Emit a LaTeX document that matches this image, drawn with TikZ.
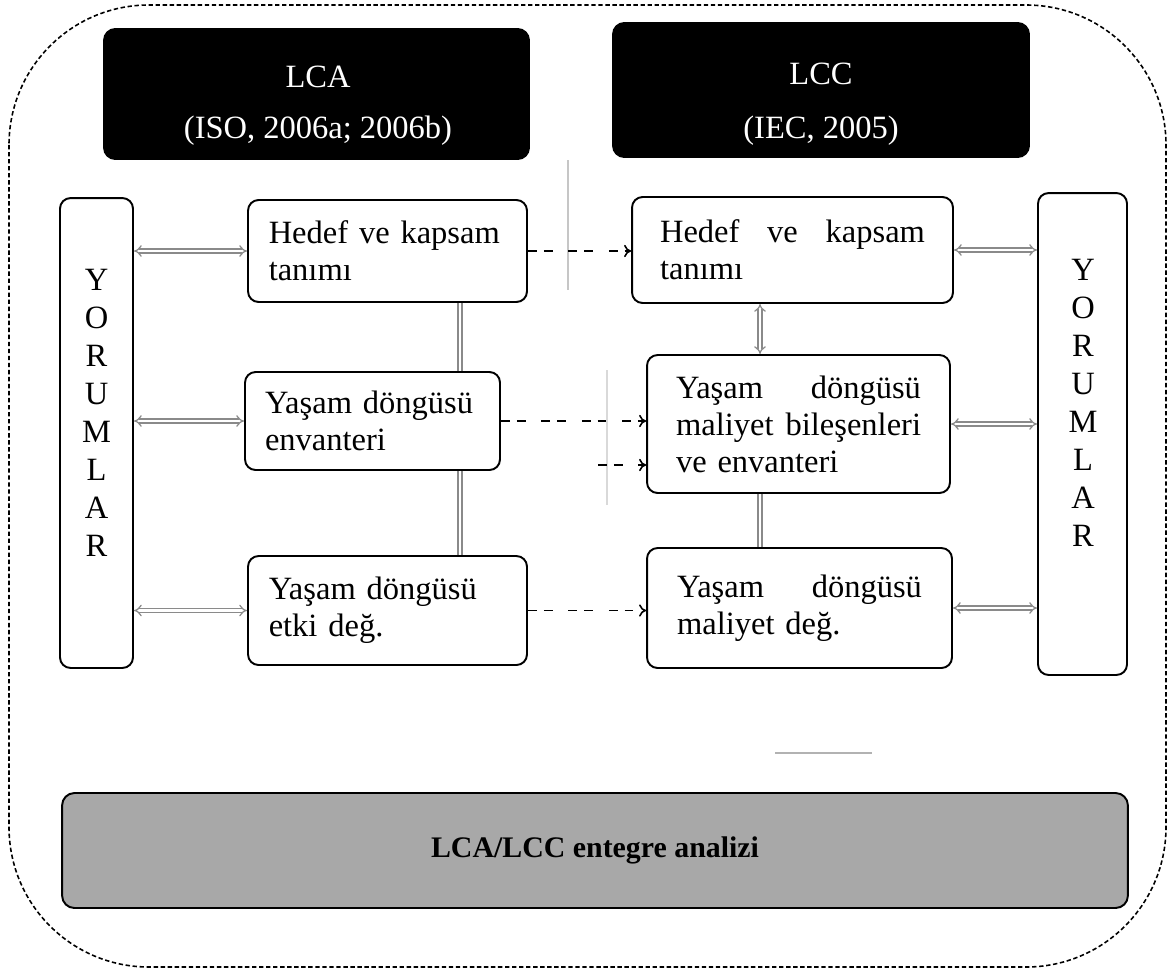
\documentclass[tikz,border=0pt]{standalone}
\usepackage{fontspec}
\setmainfont{Liberation Serif}
\usepackage{tikz}
\usetikzlibrary{arrows.meta,positioning,calc}
\definecolor{boxGray}{HTML}{A8A8A8}
\definecolor{linkGray}{HTML}{8A8A8A}
\newcommand{\jline}[1]{\makebox[\hsize][s]{#1}}

\begin{document}
\begin{tikzpicture}[x=0.02cm, y=-0.02cm,
  font=\fontsize{18.5}{21}\selectfont,
  head/.style={rounded corners=7pt,fill=black,minimum width=#1,inner sep=0pt},
  stage/.style={draw,line width=1.1pt,rounded corners=6pt,fill=white,align=left,inner ysep=0pt},
  yor/.style={draw,line width=1.1pt,rounded corners=6pt,fill=white,inner sep=0pt},
  dlink/.style={draw=linkGray,double=white,double distance=1.5pt,line width=0.7pt},
  flow/.style={black,line width=0.9pt,dash pattern=on 5pt off 4pt on 5pt off 9pt,-{To[length=4pt,width=7pt]}}]
\useasboundingbox (0,0) rectangle (1168,974);
% outer frame
\draw[line width=0.9pt,dash pattern=on 2.5pt off 1.5pt,rounded corners=2.8cm] (9,5) rectangle (1166,967);
% scan traces
\draw[gray!45,line width=0.8pt] (568,160) -- (568,290);
\draw[gray!30,line width=0.8pt] (607,370) -- (607,505);
\draw[gray!60,line width=0.8pt] (775,753) -- (872,753);
% headers
\node[head=8.54cm,minimum height=2.64cm] (lcaBox) at (316.5,94) {};
\node[text=white,align=center] (lcaTxt) at (318,106) {LCA\\[0.28cm](ISO, 2006a; 2006b)};
\node[head=8.36cm,minimum height=2.72cm] (lccBox) at (821,90) {};
\node[text=white,align=center] (lccTxt) at (821,104) {LCC\\[0.34cm](IEC, 2005)};
% interpretation bars
\node[yor,minimum width=1.46cm,minimum height=9.4cm] (yorL) at (96.5,433) {};
\node[align=center,font=\fontsize{18.5}{21.6}\selectfont] (yorLtxt) at (96.5,413) {Y\\O\\R\\U\\M\\L\\A\\R};
\node[yor,minimum width=1.78cm,minimum height=9.64cm] (yorR) at (1082.5,434) {};
\node[align=center,font=\fontsize{18.5}{21.6}\selectfont] (yorRtxt) at (1083,403) {Y\\O\\R\\U\\M\\L\\A\\R};
% LCA stages
\node[stage,text width=4.75cm,inner xsep=0.415cm,minimum height=2.04cm] (lca1) at (387.5,251) {Hedef ve kapsam\\tanımı};
\node[stage,text width=4.3cm,inner xsep=0.4cm,minimum height=1.96cm] (lca2) at (372.5,421) {Yaşam döngüsü\\envanteri};
\node[stage,text width=4.75cm,inner xsep=0.415cm,minimum height=2.18cm] (lca3) at (387.5,610.5) {Yaşam döngüsü\\etki değ.};
% LCC stages
\node[stage,text width=5.3cm,inner xsep=0.56cm,minimum height=2.12cm] (lcc1) at (792.5,250) {\jline{Hedef\hfill ve\hfill kapsam}\\tanımı};
\node[stage,text width=4.9cm,inner xsep=0.58cm,minimum height=2.76cm] (lcc2) at (798.5,424) {\jline{Yaşam\hfill döngüsü}\\\jline{maliyet\hfill bileşenleri}\\ve envanteri};
\node[stage,text width=4.9cm,inner xsep=0.6cm,minimum height=2.4cm] (lcc3) at (799.5,608) {\jline{Yaşam\hfill döngüsü}\\maliyet değ.};
% integrated analysis
\node[draw,line width=1.1pt,rounded corners=7pt,fill=boxGray,minimum width=21.32cm,minimum height=2.3cm,
  font=\fontsize{17}{20}\selectfont\bfseries] (integ) at (595,850.5) {LCA/LCC entegre analizi};
% links to interpretation
\foreach \s in {lca1,lca2,lca3}
  \draw[dlink,{Implies}-{Implies}] (yorL.east |- \s.west) -- (\s.west);
\foreach \s in {lcc1,lcc2,lcc3}
  \draw[dlink,{Implies}-{Implies}] (\s.east) -- (\s.east -| yorR.west);
% links between stages
\draw[dlink] ([xshift=1.45cm]lca1.south) -- ([xshift=1.45cm]lca1.south |- lca2.north);
\draw[dlink] ([xshift=1.75cm]lca2.south) -- ([xshift=1.75cm]lca2.south |- lca3.north);
\draw[dlink,{Implies}-{Implies}] ([xshift=-0.65cm]lcc1.south) -- ([xshift=-0.65cm]lcc1.south |- lcc2.north);
\draw[dlink] ([xshift=-0.77cm]lcc2.south) -- ([xshift=-0.77cm]lcc2.south |- lcc3.north);
% LCA -> LCC
\coordinate (lowIn) at (598,465);
\draw[flow] (lca1.east) -- (lca1.east -| lcc1.west);
\draw[flow] (lca2.east) -- (lca2.east -| lcc2.west);
\draw[flow] (lowIn) -- (lowIn -| lcc2.west);
\draw[flow] (lca3.east) -- (lca3.east -| lcc3.west);
\end{tikzpicture}
\end{document}
